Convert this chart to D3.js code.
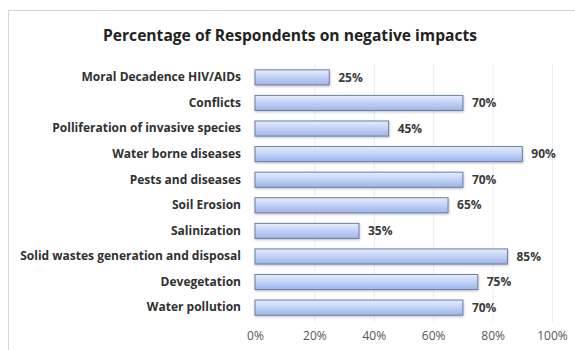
<!DOCTYPE html>
<html>
<head>
<meta charset="utf-8">
<script src="https://cdn.jsdelivr.net/npm/d3@7"></script>
<style>
  html, body { margin: 0; padding: 0; background: #ffffff; }
  svg { display: block; }
</style>
</head>
<body>
<svg id="chart" width="575" height="350"></svg>
<script>
// Survey results: share of respondents naming each negative impact
const categories = [
  "Moral Decadence HIV/AIDs",
  "Conflicts",
  "Polliferation of invasive species",
  "Water borne diseases",
  "Pests and diseases",
  "Soil Erosion",
  "Salinization",
  "Solid wastes generation and disposal",
  "Devegetation",
  "Water pollution"
];
const percentages = [25, 70, 45, 90, 70, 65, 35, 85, 75, 70];
const tickValues = [0, 20, 40, 60, 80, 100];
const titleText = "Percentage of Respondents on negative impacts";

const FONT = "'Open Sans', 'Noto Sans', sans-serif";
const svg = d3.select("#chart");
const W = 575, H = 350;

// Chart frame
svg.append("rect")
  .attr("x", 8.5).attr("y", 10.5)
  .attr("width", W).attr("height", H)
  .attr("fill", "#ffffff")
  .attr("stroke", "#d4d4d4")
  .attr("stroke-width", 1);

// Title
svg.append("text")
  .attr("x", 103).attr("y", 41)
  .attr("font-family", FONT)
  .attr("font-weight", "bold")
  .attr("font-size", 15.5)
  .attr("fill", "#222222")
  .attr("textLength", 374)
  .attr("lengthAdjust", "spacingAndGlyphs")
  .text(titleText);

const x = d3.scaleLinear().domain([0, 100]).range([255, 552]);
const y = d3.scaleBand().domain(categories).range([64.7, 320.3]).paddingInner(0.41).paddingOuter(0.2);

// Bar gradient
const defs = svg.append("defs");
const grad = defs.append("linearGradient")
  .attr("id", "barFill").attr("x1", 0).attr("y1", 0).attr("x2", 0).attr("y2", 1);
grad.append("stop").attr("offset", "0%").attr("stop-color", "#e6edfc");
grad.append("stop").attr("offset", "45%").attr("stop-color", "#c4d4f6");
grad.append("stop").attr("offset", "100%").attr("stop-color", "#9db5ea");

const shadow = defs.append("filter").attr("id", "barShadow")
  .attr("x", "-5%").attr("y", "-20%").attr("width", "110%").attr("height", "160%");
shadow.append("feDropShadow")
  .attr("dx", 0.5).attr("dy", 1.2).attr("stdDeviation", 0.8)
  .attr("flood-color", "#7a7a7a").attr("flood-opacity", 0.45);

// Vertical gridlines
svg.append("g")
  .selectAll("line")
  .data(tickValues.filter(d => d > 0))
  .join("line")
  .attr("x1", d => x(d) + 0.5).attr("x2", d => x(d) + 0.5)
  .attr("y1", 64).attr("y2", 322)
  .attr("stroke", "#ececec")
  .attr("stroke-width", 1);

// Bars
svg.append("g")
  .selectAll("rect")
  .data(categories)
  .join("rect")
  .attr("x", x(0))
  .attr("y", d => y(d))
  .attr("width", (d, i) => x(percentages[i]) - x(0))
  .attr("height", y.bandwidth())
  .attr("fill", "url(#barFill)")
  .attr("stroke", "#6c7ea6")
  .attr("stroke-width", 1)
  .attr("filter", "url(#barShadow)");

// Value labels
svg.append("g")
  .selectAll("text")
  .data(categories)
  .join("text")
  .attr("x", (d, i) => x(percentages[i]) + 9)
  .attr("y", d => y(d) + y.bandwidth() / 2)
  .attr("dy", "0.35em")
  .attr("font-family", FONT)
  .attr("font-weight", "bold")
  .attr("font-size", 12)
  .attr("fill", "#3a3a3a")
  .text((d, i) => percentages[i] + "%");

// Category axis labels
const yAxis = d3.axisLeft(y).tickSize(0).tickPadding(0);
const gy = svg.append("g").attr("transform", "translate(241,0)").call(yAxis);
gy.select(".domain").remove();
gy.selectAll("text")
  .attr("font-family", FONT)
  .attr("font-weight", "bold")
  .attr("font-size", 12)
  .attr("fill", "#303030");

// Percentage axis labels
const xAxis = d3.axisBottom(x).tickValues(tickValues).tickFormat(d => d + "%").tickSize(0).tickPadding(0);
const gx = svg.append("g").attr("transform", "translate(0,331)").call(xAxis);
gx.select(".domain").remove();
gx.selectAll("text")
  .attr("font-family", FONT)
  .attr("font-size", 12)
  .attr("fill", "#555555");
</script>
</body>
</html>
